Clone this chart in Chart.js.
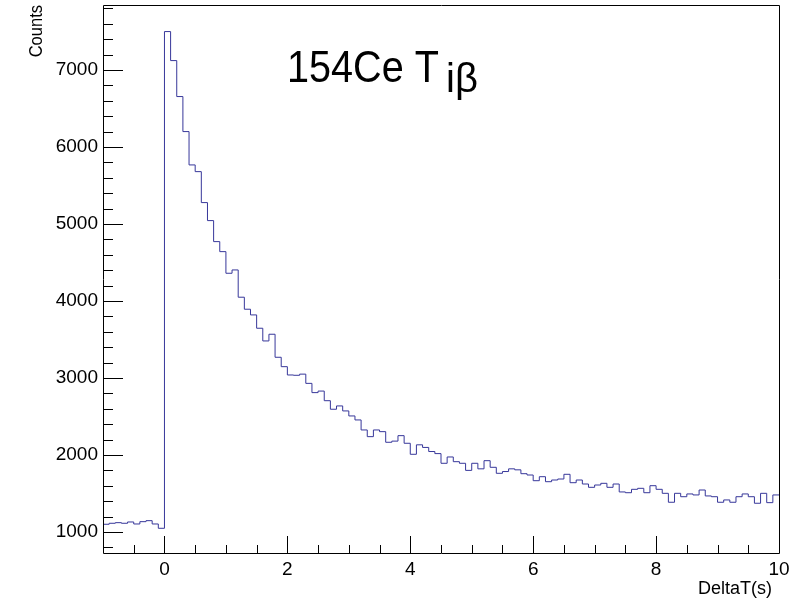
<!DOCTYPE html>
<html>
<head>
<meta charset="utf-8">
<script src="https://cdn.jsdelivr.net/npm/chart.js@4.4.0/dist/chart.umd.min.js"></script>
<style>
  html, body { margin: 0; padding: 0; background: #fff; }
  #wrap { width: 791px; height: 602px; position: relative; }
</style>
</head>
<body>
<div id="wrap"><canvas id="c" width="791" height="602"></canvas></div>
<script>
// ---- Data (histogram, bin width 0.1 s, from -1 s to 10 s) ----
const BIN_START = -1;
const BIN_WIDTH = 0.1;
const BKG_COUNTS = [1100, 1113, 1121, 1113, 1130, 1104, 1134, 1147, 1104, 1048];
const COUNTS_0_2 = [7499, 7122, 6655, 6200, 5767, 5680, 5278, 5044, 4771, 4641,
                    4360, 4403, 4049, 3893, 3819, 3646, 3481, 3568, 3269, 3147];
const COUNTS_2_5 = [3039, 3035, 3050, 2930, 2810, 2830, 2705, 2594, 2637, 2572,
                    2507, 2455, 2325, 2238, 2325, 2303, 2165, 2180, 2251, 2152,
                    2009, 2132, 2098, 2045, 2018, 1892, 1974, 1913, 1892, 1800];
const COUNTS_5_10 = [1892, 1820, 1926, 1840, 1762, 1785, 1820, 1807, 1757, 1740,
                     1666, 1718, 1653, 1675, 1688, 1749, 1640, 1675, 1623, 1580,
                     1610, 1632, 1580, 1623, 1520, 1510, 1554, 1567, 1510, 1601,
                     1554, 1502, 1386, 1502, 1458, 1494, 1481, 1545, 1468, 1458,
                     1386, 1416, 1386, 1458, 1494, 1458, 1373, 1502, 1381, 1481];
const X_TICKS = [0, 2, 4, 6, 8, 10];
const Y_TICKS = [1000, 2000, 3000, 4000, 5000, 6000, 7000];
const X_RANGE = [-1, 10];
const Y_RANGE = [727, 7844];
const X_TITLE = 'DeltaT(s)';
const Y_TITLE = 'Counts';
const LABEL_MAIN = '154Ce T';
const LABEL_SUB = 'iβ';

// ---- Build step-histogram points (left bin edges + closing right edge) ----
const counts = [].concat(BKG_COUNTS, COUNTS_0_2, COUNTS_2_5, COUNTS_5_10);
const points = counts.map((v, i) => ({ x: +(BIN_START + i * BIN_WIDTH).toFixed(2), y: v }));
points.push({ x: +(BIN_START + counts.length * BIN_WIDTH).toFixed(2), y: counts[counts.length - 1] });

const FONT = '"Liberation Sans", Arial, Helvetica, sans-serif';

const rootStyle = {
  id: 'rootStyle',
  afterDraw(chart) {
    const { ctx, chartArea: { left, right, top, bottom }, scales: { x, y } } = chart;
    ctx.save();
    ctx.strokeStyle = '#000';
    ctx.lineWidth = 1;
    // frame
    ctx.beginPath();
    ctx.rect(Math.round(left) + 0.5, Math.round(top) + 0.5,
             Math.round(right) - Math.round(left), Math.round(bottom) - Math.round(top));
    ctx.stroke();
    // x ticks (inside, upwards): every 0.5, major every 2
    ctx.beginPath();
    for (let k = Math.ceil(X_RANGE[0] / 0.5); k * 0.5 <= X_RANGE[1]; k++) {
      const v = k * 0.5;
      if (v <= X_RANGE[0] || v >= X_RANGE[1]) continue;
      const px = Math.round(x.getPixelForValue(v)) + 0.5;
      const len = (Math.abs(v % 2) < 1e-9) ? 17 : 8;
      ctx.moveTo(px, bottom);
      ctx.lineTo(px, bottom - len);
    }
    // y ticks (inside, rightwards): every 200, major every 1000
    for (let v = Math.ceil(Y_RANGE[0] / 200) * 200; v < Y_RANGE[1]; v += 200) {
      const py = Math.round(y.getPixelForValue(v)) + 0.5;
      const len = (v % 1000 === 0) ? 20 : 10;
      ctx.moveTo(left, py);
      ctx.lineTo(left + len, py);
    }
    ctx.stroke();

    // axis titles
    ctx.fillStyle = '#000';
    ctx.font = '18px ' + FONT;
    ctx.textAlign = 'right';
    ctx.textBaseline = 'alphabetic';
    ctx.fillText(X_TITLE, right - 7, 594);
    ctx.save();
    ctx.translate(42, top);
    ctx.rotate(-Math.PI / 2);
    ctx.scale(0.87, 1);
    ctx.font = '19px ' + FONT;
    ctx.textAlign = 'right';
    ctx.fillText(Y_TITLE, 0, 0);
    ctx.restore();

    // in-plot label "154Ce T_iβ"
    ctx.textAlign = 'left';
    ctx.save();
    ctx.translate(287, 82);
    ctx.scale(0.88, 1);
    ctx.font = '45px ' + FONT;
    ctx.fillText(LABEL_MAIN, 0, 0);
    ctx.restore();
    ctx.font = '40px ' + FONT;
    ctx.fillText(LABEL_SUB, 446, 92);
    ctx.restore();
  }
};

new Chart(document.getElementById('c'), {
  type: 'line',
  data: {
    datasets: [{
      data: points,
      stepped: 'before',
      borderColor: '#37379a',
      borderWidth: 1,
      pointRadius: 0,
      fill: false,
      tension: 0
    }]
  },
  options: {
    responsive: false,
    animation: false,
    events: [],
    layout: { padding: { top: 5, right: 12, left: 0, bottom: 0 } },
    plugins: { legend: { display: false }, tooltip: { enabled: false }, title: { display: false } },
    scales: {
      x: {
        type: 'linear',
        min: X_RANGE[0], max: X_RANGE[1],
        grid: { display: false, drawTicks: false },
        border: { display: false },
        afterBuildTicks: s => { s.ticks = X_TICKS.map(v => ({ value: v })); },
        afterFit: s => { s.height = 49; s.paddingLeft = 0; s.paddingRight = 0; },
        ticks: { color: '#000', font: { family: FONT, size: 19 }, padding: 5, maxRotation: 0, autoSkip: false,
                 callback: v => String(v) }
      },
      y: {
        type: 'linear',
        min: Y_RANGE[0], max: Y_RANGE[1],
        grid: { display: false, drawTicks: false },
        border: { display: false },
        afterBuildTicks: s => { s.ticks = Y_TICKS.map(v => ({ value: v })); },
        afterFit: s => { s.width = 103; s.paddingTop = 0; s.paddingBottom = 0; },
        ticks: { color: '#000', font: { family: FONT, size: 19 }, padding: 5, autoSkip: false,
                 callback: v => String(v) }
      }
    }
  },
  plugins: [rootStyle]
});
</script>
</body>
</html>
